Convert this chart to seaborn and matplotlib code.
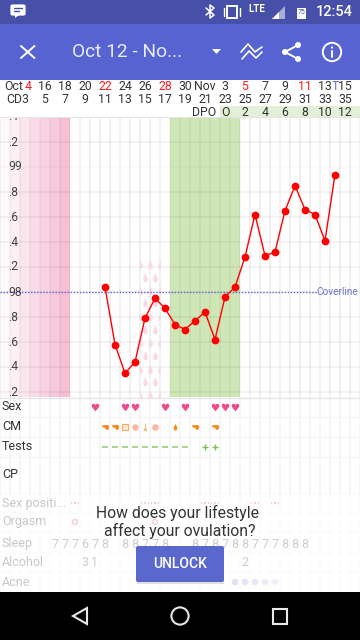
import numpy as np
import pandas as pd
import matplotlib
matplotlib.use("Agg")
import matplotlib.pyplot as plt
from matplotlib.patches import Rectangle, Circle, Polygon, FancyBboxPatch
from matplotlib.lines import Line2D
import seaborn as sns

sns.set_theme(style="white")
plt.rcParams["font.family"] = ["Roboto", "DejaVu Sans"]

# ---- data ----
temp_days = list(range(11, 35))
temps = [98.04, 97.58, 97.35, 97.44, 97.79, 97.95, 97.87, 97.74, 97.70, 97.77, 97.84, 97.62,
         97.96, 98.04, 98.28, 98.62, 98.29, 98.32, 98.65, 98.85, 98.66, 98.62, 98.41, 98.94]
coverline = 98.0
ytick_vals = [97.2, 97.4, 97.6, 97.8, 98.0, 98.2, 98.4, 98.6, 98.8, 99.0, 99.2, 99.4]
ytick_labels = [".2", ".4", ".6", ".8", "98", ".2", ".4", ".6", ".8", "99", ".2", ".4"]

label_days = list(range(3, 36, 2))
date_labels = ["4", "16", "18", "20", "22", "24", "26", "28", "30", "Nov", "3", "5", "7", "9", "11", "13", "15"]
red_dates = ["4", "22", "28", "5", "11"]
cd_labels = [str(d) for d in label_days]
dpo_days = [23, 25, 27, 29, 31, 33, 35]
dpo_labels = ["O", "2", "4", "6", "8", "10", "12"]

sex_days = [10, 13, 14, 17, 19, 22, 23, 24]
cm_blob_days = [11, 12, 20, 22]
cm_box_days = [13]
cm_egg_days = [14, 16]
cm_stick_days = [15]
cm_drop_days = [18]
test_neg_days = [11, 12, 13, 14, 15, 16, 17, 18, 19]
test_pos_days = [21, 22]
row_names = ["Sex", "CM", "Tests", "CP", "Sex positi...", "Orgasm", "Sleep", "Alcohol", "Acne"]
row_px = [407, 427, 447, 475, 503, 522, 544, 562, 582]

sexpos_days = [8, 15, 16, 21, 22, 26, 28]
orgasm_days = [8, 16]
sleep_days = [6, 7, 8, 9, 10, 11, 13, 14, 15, 16, 17, 20, 21, 22, 23, 24, 25, 26, 27, 28, 29, 30, 31]
sleep_vals = [7, 7, 7, 6, 7, 8, 8, 8, 7, 7, 8, 8, 7, 8, 7, 8, 8, 7, 7, 7, 8, 8, 8]
alcohol_days = [9, 10, 25]
alcohol_vals = [3, 1, 2]
acne_days = [24, 25, 26, 27, 28]
acne_colors = ["#9ca2e1", "#a6abe4", "#b2b7e8", "#c0c4ed", "#ced1f1"]

drop_a_days = [14.5, 15.5, 16.5]
drop_a_temps = [98.216, 98.01, 97.80, 97.59, 97.38, 97.17]
drop_b_days = [15, 16]
drop_b_temps = [98.11, 97.91, 97.70, 97.49, 97.28]

# ---- layout helpers ----
W, H = 360, 640
fig = plt.figure(figsize=(W / 100, H / 100), dpi=100, facecolor="white")


def px_axes(top, bottom, z=1):
    a = fig.add_axes([0, 1 - bottom / H, 1, (bottom - top) / H], zorder=z)
    a.set_xlim(0.5, 36.5)
    a.axis("off")
    return a


GRID = "#f1f1f1"
# main temperature chart: 98.0 sits at y=292, 125 px per degree
top_px, bot_px = 118, 397
ylo, yhi = 98 - (bot_px - 292) / 125, 98 + (292 - top_px) / 125
ax = px_axes(top_px, bot_px, 2)
ax.set_ylim(ylo, yhi)

# phase bands
for i, d in enumerate(range(1, 8)):
    ax.axvspan(d - 0.5, d + 0.5, color="#f5b5cf", alpha=(i + 0.3) / 7 * 0.92 + 0.03, lw=0, zorder=0)
ax.axvspan(17.5, 24.5, color="#cfe6b7", lw=0, zorder=0)

# grid
for d in range(0, 37):
    inband = 17.5 <= d + .5 <= 24.5 or d + .5 <= 7.5
    ax.axvline(d + 0.5, color="#000000" if inband else GRID, alpha=0.035 if inband else 1, lw=1.4, zorder=0.5)
for v in ytick_vals:
    ax.axhline(v, color="#000000", alpha=0.05 if v != 99.0 else 0.025, lw=1.2, zorder=0.6)

# spotting drops, clipped to their two day columns
verts = [(0, 1.0), (0.32, 0.35), (0.5, -0.15), (0.33, -0.62), (0, -0.8), (-0.33, -0.62), (-0.5, -0.15), (-0.32, 0.35)]
clip = Rectangle((14.5, ylo), 2, 98.3 - ylo, transform=ax.transData)
for ds, ts in [(drop_a_days, drop_a_temps), (drop_b_days, drop_b_temps)]:
    dx = [d for d in ds for _ in ts]
    dy = [t for _ in ds for t in ts]
    art = ax.scatter(dx, dy, marker=verts, s=50, color="#fbd8e6", lw=0, zorder=0.7)
    art.set_clip_path(clip)

# y labels
for v, lab in zip(ytick_vals, ytick_labels):
    ax.text(1.3, v, lab, fontsize=8.7, color="#444444", ha="left", va="center", zorder=3)

# coverline + temperature series
ax.plot([0.5, 32.1], [coverline, coverline], color="#5a67d8", lw=1.0, ls=(0, (1, 1.2)), zorder=1.5)
ax.text(32.17, coverline, "Coverline", color="#6a74cf", fontsize=7.2, va="center", ha="left", zorder=3)
df = pd.DataFrame({"day": temp_days, "temp": temps})
sns.lineplot(data=df, x="day", y="temp", ax=ax, color="#ff0000", lw=1.0, marker="o", ms=5.6,
             mec="#ff0000", mew=0, zorder=4, legend=False)
ax.set_xlim(0.5, 36.5)
ax.set_ylim(ylo, yhi)
ax.axis("off")

# symptom rows
ax2 = px_axes(397, 592, 2)
ax2.set_ylim(592, 397)
for d in range(0, 37):
    ax2.axvline(d + 0.5, color="#f5f5f5", lw=1.2, zorder=0)
for yy in [417, 437, 457, 493, 512, 532, 552, 572]:
    ax2.axhline(yy, color="#f5f5f5", lw=1.0, zorder=0)
ax2.axhline(397.5, color="#e6e6e6", lw=1.0, zorder=0)

for name, y in zip(row_names, row_px):
    ax2.text(0.7, y, name, fontsize=9, color="#555555" if y > 495 else "#333333", va="center", ha="left")


def row(days, r):
    return days, [row_px[r]] * len(days)


blob = [(-1, 0.55), (-0.8, 0.05), (-0.2, -0.05), (0.3, -0.7), (0.75, -0.6), (1, 0.05), (0.9, 0.6), (0, 0.7)]
drop = [(0, 1.0), (0.45, 0.2), (0.55, -0.3), (0.3, -0.8), (0, -0.9), (-0.3, -0.8), (-0.55, -0.3), (-0.45, 0.2)]
stick = [(-0.12, 1), (0.12, 1), (0.12, -0.1), (0.45, -0.5), (0.3, -0.9), (-0.3, -0.9), (-0.45, -0.5), (-0.12, -0.1)]
ax2.scatter(*row(sex_days, 0), marker="$\u2665$", s=30, color="#ee4a8e", lw=0, zorder=3)
ax2.scatter(*row(cm_blob_days, 1), marker=blob, s=28, color="#f98a1c", lw=0, zorder=3)
ax2.scatter(*row(cm_box_days, 1), marker="s", s=18, facecolor="#fde7d2", edgecolor="#f9ab62", lw=0.8, zorder=3)
ax2.scatter(*row(cm_egg_days, 1), marker="o", s=22, color="#f9b7a4", lw=0, zorder=3)
ax2.scatter(*row(cm_stick_days, 1), marker=stick, s=34, color="#f9bd82", lw=0, zorder=3)
ax2.scatter(*row(cm_drop_days, 1), marker=drop, s=24, color="#f98a1c", lw=0, zorder=3)
ax2.scatter(*row(test_neg_days, 2), marker="_", s=18, color="#a9d68c", lw=1.5, zorder=3)
ax2.scatter(*row(test_pos_days, 2), marker="+", s=18, color="#7cc04f", lw=1.0, zorder=3)

ax2.scatter(*row(sexpos_days, 4), marker=r"$\cdots$", s=34, color="#ee5a94", lw=0, zorder=3)
ax2.scatter(*row(orgasm_days, 5), marker="o", s=13, facecolor="none", edgecolor="#ee5a94", lw=1.0, zorder=3)
for d, v in zip(sleep_days, sleep_vals):
    ax2.text(d, row_px[6], str(v), fontsize=9, color="#666666", ha="center", va="center", zorder=3)
for d, v in zip(alcohol_days, alcohol_vals):
    ax2.text(d, row_px[7], str(v), fontsize=9, color="#666666", ha="center", va="center", zorder=3)
ax2.scatter(*row(acne_days, 8), marker="o", s=22, lw=0, zorder=3, color=acne_colors)

# chrome overlay in pixel coordinates
ui = fig.add_axes([0, 0, 1, 1], zorder=5)
ui.set_xlim(0, W)
ui.set_ylim(H, 0)
ui.axis("off")
ui.patch.set_alpha(0)

ui.add_patch(Rectangle((0, 0), W, 24, color="#4650a8", lw=0))
ui.add_patch(Rectangle((0, 24), W, 56, color="#5763d0", lw=0))
ui.add_patch(Rectangle((0, 80), W, 38, color="white", lw=0))
ui.add_patch(Rectangle((220, 105.5), 140, 11.5, color="#e3efd6", lw=0))
ui.add_patch(Rectangle((0, 117), W, 1.2, color="#e4e4e4", lw=0))

# header row labels
HF = 8.8
for d, lab, cd in zip(label_days, date_labels, cd_labels):
    x = 10 * d - 5
    x_date = 28 if d == 3 else x
    col = "#ff1a1a" if lab in red_dates else "#333333"
    ui.text(x_date, 87, lab, fontsize=HF, color=col, ha="center", va="center")
    ui.text(18 if d == 3 else x, 99.5, "CD3" if d == 3 else cd, fontsize=HF, color="#333333", ha="center", va="center")
ui.text(13.5, 87, "Oct", fontsize=HF, color="#333333", ha="center", va="center")
ui.text(335, 87, "T", fontsize=HF, color="#6a74cf", ha="center", va="center")
ui.text(204, 112, "DPO", fontsize=HF, color="#333333", ha="center", va="center")
for d, lab in zip(dpo_days, dpo_labels):
    ui.text(10 * d - 5, 112, lab, fontsize=HF, color="#333333", ha="center", va="center")

# app bar
ui.text(72, 52, "Oct 12 - No...", fontsize=13.8, color="#e8eaf8", ha="left", va="center")
ui.add_line(Line2D([21, 34.5], [46, 58], color="white", lw=1.4))
ui.add_line(Line2D([21, 34.5], [58, 46], color="white", lw=1.4))
ui.add_patch(Polygon([[212, 49], [221, 49], [216.5, 54]], color="white", lw=0))
ui.add_line(Line2D([241, 248, 255, 259, 262], [52, 44, 52, 49, 47], color="white", lw=1.2))
ui.add_line(Line2D([242, 249, 256, 262], [59, 51, 58, 52], color="white", lw=1.2))
ui.add_line(Line2D([298, 285, 298], [45, 52, 59], color="white", lw=1.4))
for x, y in [(298, 45), (285, 52), (298, 59)]:
    ui.add_patch(Circle((x, y), 3, color="white", lw=0))
ui.add_patch(Circle((332, 52), 9.2, fc="none", ec="white", lw=1.4))
ui.add_patch(Circle((332, 47.5), 1.1, color="white", lw=0))
ui.add_line(Line2D([332, 332], [50.5, 57], color="white", lw=1.4))

# status bar
ui.add_patch(FancyBboxPatch((11, 5), 14, 10, boxstyle="round,pad=0.6,rounding_size=2", color="white", lw=0))
ui.add_patch(Polygon([[15, 15], [19, 15], [15, 18]], color="white", lw=0))
for yy, x1 in [(8, 22), (11, 19)]:
    ui.add_line(Line2D([14, x1], [yy, yy], color="#4650a8", lw=1))
ui.add_line(Line2D([206, 214, 210, 210, 214, 206], [8, 15, 18, 5, 8, 15], color="white", lw=1.1))
ui.add_patch(Rectangle((227, 6), 10, 12, fc="none", ec="white", lw=1.4))
ui.add_line(Line2D([224, 224], [8, 16], color="white", lw=1))
ui.add_line(Line2D([240, 240], [8, 16], color="white", lw=1))
ui.text(257, 9.5, "LTE", fontsize=7, color="white", ha="center", va="center", fontweight="bold")
ui.add_patch(Polygon([[272, 19], [285, 19], [285, 6]], color="#a9aed8", lw=0))
ui.add_patch(Polygon([[272, 19], [279, 19], [279, 12]], color="white", lw=0))
ui.add_patch(Rectangle((297, 8), 9, 11, color="white", lw=0))
ui.text(301.5, 13, "75", fontsize=5, color="#4650a8", ha="center", va="center")
ui.text(334, 12.5, "12:54", fontsize=10.5, color="white", ha="center", va="center", fontweight="medium")

# paywall fade + card
grad = np.linspace(0, 1, 12).reshape(-1, 1)
ui.imshow(np.dstack([np.ones((12, 1, 3)), 0.68 * grad]), extent=(0, W, 497, 489), aspect="auto", zorder=6)
ui.add_patch(Rectangle((0, 497), W, 95, color="white", alpha=0.68, lw=0, zorder=6))
ui.set_xlim(0, W)
ui.set_ylim(H, 0)
ui.text(178, 513, "How does your lifestyle", fontsize=11.3, color="#333333", ha="center", va="center", zorder=7)
ui.text(180, 531, "affect your ovulation?", fontsize=11.3, color="#333333", ha="center", va="center", zorder=7)
ui.add_patch(Rectangle((137, 549), 87, 34.5, color="#000000", alpha=0.12, lw=0, zorder=6.5))
ui.add_patch(FancyBboxPatch((136, 546), 88, 36, boxstyle="round,pad=0,rounding_size=2", fc="#5a68cd", ec="none", zorder=7))
ui.text(180, 564.5, "UNLOCK", fontsize=10, color="white", ha="center", va="center", fontweight="medium", zorder=8)

# nav bar
ui.add_patch(Rectangle((0, 592), W, 48, color="black", lw=0, zorder=9))
ui.add_patch(Polygon([[87, 608], [87, 624], [73, 616]], fc="none", ec="#e8e8e8", lw=1.5, zorder=10))
ui.add_patch(Circle((180, 616), 8.6, fc="none", ec="#e8e8e8", lw=1.5, zorder=10))
ui.add_patch(Rectangle((272.5, 609), 14.5, 14.5, fc="none", ec="#e8e8e8", lw=1.5, zorder=10))

fig.savefig("out.png", dpi=100)
